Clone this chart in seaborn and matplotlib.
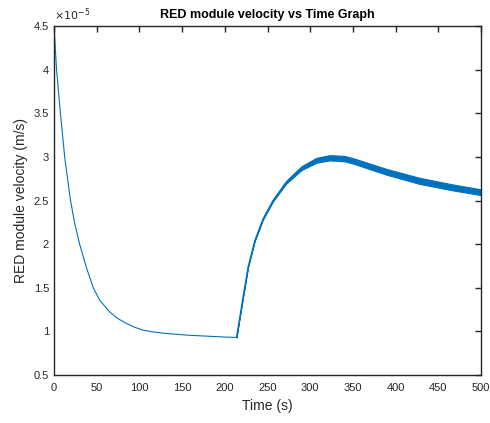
import numpy as np
import matplotlib
matplotlib.use("Agg")
import matplotlib.pyplot as plt
import seaborn as sns

# velocity readings in units of 1e-5 m/s
time_s = [0, 3, 7.5, 12.5, 19, 24, 30, 38, 46, 53.5, 65, 75, 85, 95, 104, 115, 132, 159, 198, 213.6,
          221.3, 227.2, 235, 244.7, 256.4, 272, 289.7, 307, 322.8, 340, 350, 389, 428, 467, 500]
velocity = [4.5, 4.0, 3.5, 3.0, 2.52, 2.25, 2.0, 1.73, 1.5, 1.357, 1.225, 1.145, 1.09, 1.045, 1.015,
            0.995, 0.975, 0.955, 0.936, 0.93,
            1.395, 1.74, 2.04, 2.29, 2.50, 2.71, 2.87, 2.96, 2.99, 2.98, 2.955, 2.83, 2.725, 2.65, 2.595]

# envelope of the fast oscillation after the switch at ~214 s
band_t = [213.6, 221.3, 227.2, 235, 244.7, 256.4, 272, 289.7, 307, 322.8, 340, 350, 389, 428, 467, 500]
band_lower = [0.93, 1.393, 1.736, 2.034, 2.282, 2.489, 2.694, 2.848, 2.932, 2.96, 2.949, 2.924,
              2.797, 2.69, 2.616, 2.562]
band_upper = [0.93, 1.397, 1.744, 2.046, 2.298, 2.511, 2.726, 2.892, 2.988, 3.02, 3.011, 2.986,
              2.863, 2.76, 2.684, 2.628]

sns.set_style("white")
plt.rcParams['font.family'] = ['Liberation Sans', 'DejaVu Sans']

fig = plt.figure(figsize=(4.9, 4.23), dpi=100)
ax = fig.add_axes([54 / 490, 1 - 375 / 423, 427 / 490, 349 / 423])

blue = '#0072BD'
dark = '#262626'

sns.lineplot(x=time_s, y=velocity, ax=ax, color=blue, linewidth=0.8)
ax.fill_between(band_t, band_lower, band_upper, color=blue, linewidth=0.8, edgecolor=blue)

ax.set_xlim(0, 500)
ax.set_ylim(0.5, 4.5)
ax.set_xticks(np.arange(0, 501, 50))
ax.set_yticks(np.arange(0.5, 4.51, 0.5))
ax.set_yticklabels(['0.5', '1', '1.5', '2', '2.5', '3', '3.5', '4', '4.5'])

ax.tick_params(direction='in', length=4, width=1, colors=dark, labelsize=8,
               top=True, right=True, labeltop=False, labelright=False)
ax.tick_params(axis='x', pad=6)
for s in ax.spines.values():
    s.set_color(dark)
    s.set_linewidth(1.0)

ax.set_xlabel('Time (s)', fontsize=10, color=dark, labelpad=4)
ax.set_ylabel('RED module velocity (m/s)', fontsize=10, color=dark, labelpad=4)
ax.set_title('RED module velocity vs Time Graph', fontsize=9, fontweight='bold', color='black', pad=6)
ax.text(0, 1.008, r'$\times10^{-5}$', transform=ax.transAxes, fontsize=8, color=dark,
        ha='left', va='bottom')

fig.savefig('out.png', dpi=100)
